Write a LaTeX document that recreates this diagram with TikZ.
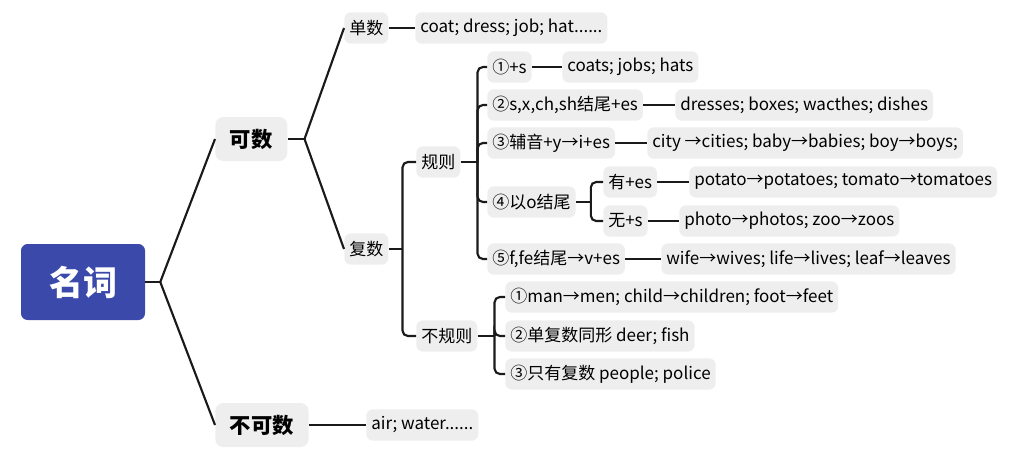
\documentclass[tikz,border=0pt]{standalone}
\usepackage{fontspec}
\setmainfont{Noto Sans CJK SC}
\usepackage{xcolor}
\usepackage{tikz}
\usetikzlibrary{positioning}

\definecolor{rootblue}{HTML}{3A49AA}
\definecolor{boxgray}{HTML}{EEEEEE}
\definecolor{linkgray}{HTML}{1A1A1A}

\begin{document}
\begin{tikzpicture}[
      x=0.75pt, y=-0.75pt,
      link/.style={draw=linkgray, line width=1.6pt},
      bracket/.style={link, rounded corners=4pt},
      rootbox/.style={fill=rootblue, text=white, rounded corners=5pt,
        minimum width=93pt, minimum height=57pt, font=\fontsize{25.5}{30}\selectfont\bfseries},
      topic/.style={fill=boxgray, rounded corners=6pt, anchor=west, inner xsep=11pt,
        minimum height=33pt, font=\fontsize{16}{19}\selectfont\bfseries},
      lbl/.style={fill=boxgray, rounded corners=5pt, anchor=west, inner xsep=3.75pt,
        minimum height=23.5pt, font=\fontsize{12.75}{15}\selectfont}
    ]
    \useasboundingbox (0,0) rectangle (1009,454);

    % Radice e rami principali
    \node[rootbox] (noun) at (83,282) {名词};
    \node[topic] (ctbl) at (215,139) {可数};
    \node[topic] (unctbl) at (215,425) {不可数};

    % Singolare / plurale
    \node[lbl] (sing) at (344,28) {单数};
    \node[lbl] (singex) at (415,28) {coat; dress; job; hat......};
    \node[lbl] (plur) at (344,249) {复数};
    \node[lbl] (reg) at (416,162) {规则};
    \node[lbl] (irr) at (416,336) {不规则};

    % Regole regolari
    \node[lbl] (r1) at (487,67) {①+s};
    \node[lbl] (r1ex) at (562,67) {coats; jobs; hats};
    \node[lbl] (r2) at (487,105) {②s,x,ch,sh结尾+es};
    \node[lbl] (r2ex) at (675,105) {dresses; boxes; wacthes; dishes};
    \node[lbl] (r3) at (487,143) {③辅音+y→i+es};
    \node[lbl] (r3ex) at (647,143) {city →cities; baby→babies; boy→boys;};
    \node[lbl] (r4) at (487,202) {④以o结尾};
    \node[lbl] (r4a) at (603,182) {有+es};
    \node[lbl] (r4aex) at (689,182) {potato→potatoes; tomato→tomatoes};
    \node[lbl] (r4b) at (603,221) {无+s};
    \node[lbl] (r4bex) at (679,221) {photo→photos; zoo→zoos};
    \node[lbl] (r5) at (487,259) {⑤f,fe结尾→v+es};
    \node[lbl] (r5ex) at (661,259) {wife→wives; life→lives; leaf→leaves};

    % Irregolari
    \node[lbl] (i1) at (505,297) {①man→men; child→children; foot→feet};
    \node[lbl] (i2) at (505,336) {②单复数同形 deer; fish};
    \node[lbl] (i3) at (505,374) {③只有复数 people; police};

    \node[lbl] (uncex) at (366,425) {air; water......};

    % Collegamenti
    \draw[link] (noun.east) -- ++(15,0) coordinate (nounj);
    \draw[link] (nounj) -- (ctbl.west);
    \draw[link] (nounj) -- (unctbl.west);

    \draw[link] (ctbl.east) -- ++(17,0) coordinate (ctblj);
    \draw[link] (ctblj) -- (sing.west);
    \draw[link] (ctblj) -- (plur.west);

    \draw[link] (sing) -- (singex);
    \draw[link] (unctbl) -- (uncex);

    \draw[link] (plur.east) -- ++(14,0) coordinate (plurj);
    \foreach \c in {reg, irr} \draw[bracket] (plurj) |- (\c.west);

    \draw[link] (reg.east) -- ++(17,0) coordinate (regj);
    \foreach \c in {r1, r2, r3, r4, r5} \draw[bracket] (regj) |- (\c.west);

    \draw[link] (r4.east) -- ++(15,0) coordinate (r4j);
    \foreach \c in {r4a, r4b} \draw[bracket] (r4j) |- (\c.west);

    \draw[link] (irr.east) -- ++(17,0) coordinate (irrj);
    \foreach \c in {i1, i2, i3} \draw[bracket] (irrj) |- (\c.west);

    \draw[link] (r1) -- (r1ex);
    \draw[link] (r2) -- (r2ex);
    \draw[link] (r3) -- (r3ex);
    \draw[link] (r4a) -- (r4aex);
    \draw[link] (r4b) -- (r4bex);
    \draw[link] (r5) -- (r5ex);
  \end{tikzpicture}
\end{document}
